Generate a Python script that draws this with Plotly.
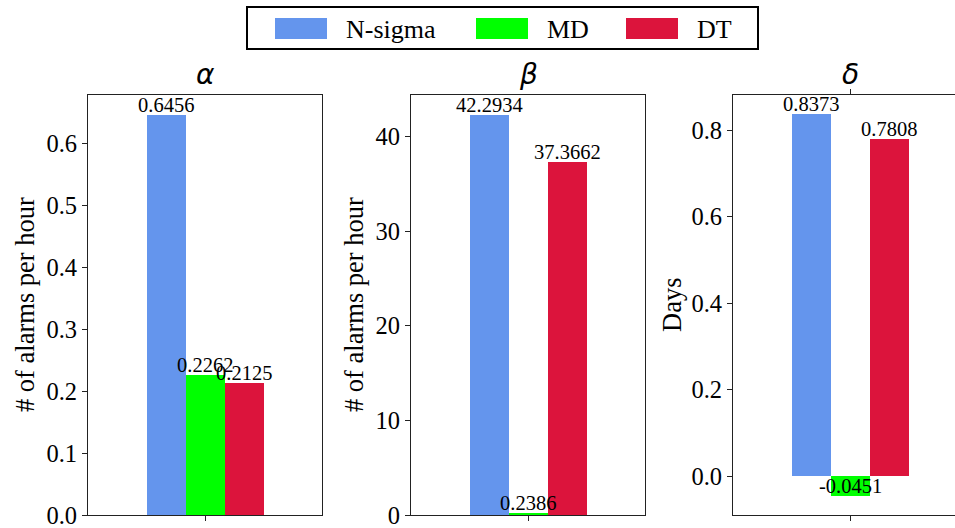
import plotly.graph_objects as go

W, H = 955, 528

# ---- data ----
panels = ["α", "β", "δ"]
methods = ["N-sigma", "MD", "DT"]
nsigma = [0.6456, 42.2934, 0.8373]
md = [0.2262, 0.2386, -0.0451]
dt = [0.2125, 37.3662, 0.7808]
ylabels = ["# of alarms per hour", "# of alarms per hour", "Days"]
colors = ["#6495ED", "#00FF00", "#DC143C"]

series = [nsigma, md, dt]

SERIF = "Liberation Serif"


def px_x(x):
    return x / W


def px_y(y):
    return 1 - y / H


fig = go.Figure()

# panel geometry (pixels)
left_px = [88, 411, 733]
right_px = [322, 645, 955]
top_px, bot_px = 95, 515
# x ranges (data units): bars at -1, 0, 1 width 1
xranges = [[-3, 3], [-3, 3], [-3, (955 - 733) / 39.0 - 3]]
ytick_fmt = [".1f", "d", ".1f"]
dticks = [0.1, 10, 0.2]

for p in range(3):
    xa = "x" if p == 0 else f"x{p+1}"
    ya = "y" if p == 0 else f"y{p+1}"
    vals = [s[p] for s in series]
    for i, m in enumerate(methods):
        fig.add_trace(go.Bar(
            x=[i - 1], y=[vals[i]], width=1, name=m,
            marker=dict(color=colors[i], line=dict(width=0)),
            showlegend=False, xaxis=xa, yaxis=ya,
        ))
        fig.add_annotation(
            x=i - 1, y=vals[i], xref=xa, yref=ya, text=f"{vals[i]:.4f}",
            showarrow=False, xanchor="center", yanchor="bottom", yshift=-3,
            font=dict(family=SERIF, size=20.5, color="black"),
        )
    vmin = min(0, min(vals))
    vmax = max(vals)
    span = vmax - vmin
    lo = vmin - 0.05 * span if vmin < 0 else 0
    hi = vmax + 0.05 * span
    xkey = "xaxis" if p == 0 else f"xaxis{p+1}"
    ykey = "yaxis" if p == 0 else f"yaxis{p+1}"
    fig.update_layout({
        xkey: dict(
            domain=[px_x(left_px[p]), px_x(right_px[p])], anchor=ya,
            range=xranges[p], showgrid=False, zeroline=False, automargin=False,
            showline=True, linecolor="#222", linewidth=1.2,
            mirror=True if p < 2 else "ticks", ticks="outside", ticklen=5,
            tickcolor="#222", tickvals=[0], showticklabels=False,
        ),
        ykey: dict(
            domain=[px_y(bot_px), px_y(top_px)], anchor=xa,
            range=[lo, hi], showgrid=False, zeroline=False, automargin=False,
            showline=True, linecolor="#222", linewidth=1.2,
            mirror=True if p < 2 else False,
            ticks="outside", ticklen=5, tickcolor="#222",
            dtick=dticks[p], tick0=0, tickformat=ytick_fmt[p],
            ticklabeloverflow="allow",
            tickfont=dict(family=SERIF, size=24.5, color="black"),
        ),
    })
    # panel title
    cx = (left_px[p] + (right_px[p] if p < 2 else 967)) / 2
    fig.add_annotation(
        x=px_x(cx), y=px_y(top_px), xref="paper", yref="paper",
        text=f"<i>{panels[p]}</i>", showarrow=False, xanchor="center",
        yanchor="bottom", yshift=2,
        font=dict(family="DejaVu Sans", size=28, color="black"),
    )
    # y-axis label
    lx = [25, 354, 672][p]
    fig.add_annotation(
        x=px_x(lx), y=px_y((top_px + bot_px) / 2), xref="paper", yref="paper",
        text=ylabels[p], showarrow=False, textangle=-90,
        xanchor="center", yanchor="middle",
        font=dict(family=SERIF, size=26.5, color="black"),
    )

# ---- custom legend ----
shapes = [dict(type="rect", xref="paper", yref="paper",
               x0=px_x(247), x1=px_x(758), y0=px_y(49), y1=px_y(7),
               line=dict(color="black", width=2), fillcolor="white")]
sw_x = [275, 476, 626]
tx_x = [345, 546, 696]
for i, m in enumerate(methods):
    shapes.append(dict(type="rect", xref="paper", yref="paper",
                       x0=px_x(sw_x[i]), x1=px_x(sw_x[i] + 52),
                       y0=px_y(39), y1=px_y(18),
                       line=dict(width=0), fillcolor=colors[i]))
    fig.add_annotation(x=px_x(tx_x[i] - 1), y=px_y(29), xref="paper", yref="paper",
                       text=m, showarrow=False, xanchor="left", yanchor="middle",
                       font=dict(family=SERIF, size=26, color="black"))

fig.update_layout(
    width=W, height=H, margin=dict(l=0, r=0, t=0, b=0),
    paper_bgcolor="white", plot_bgcolor="white",
    shapes=shapes, bargap=0, showlegend=False,
)

fig.write_html("out.html")
